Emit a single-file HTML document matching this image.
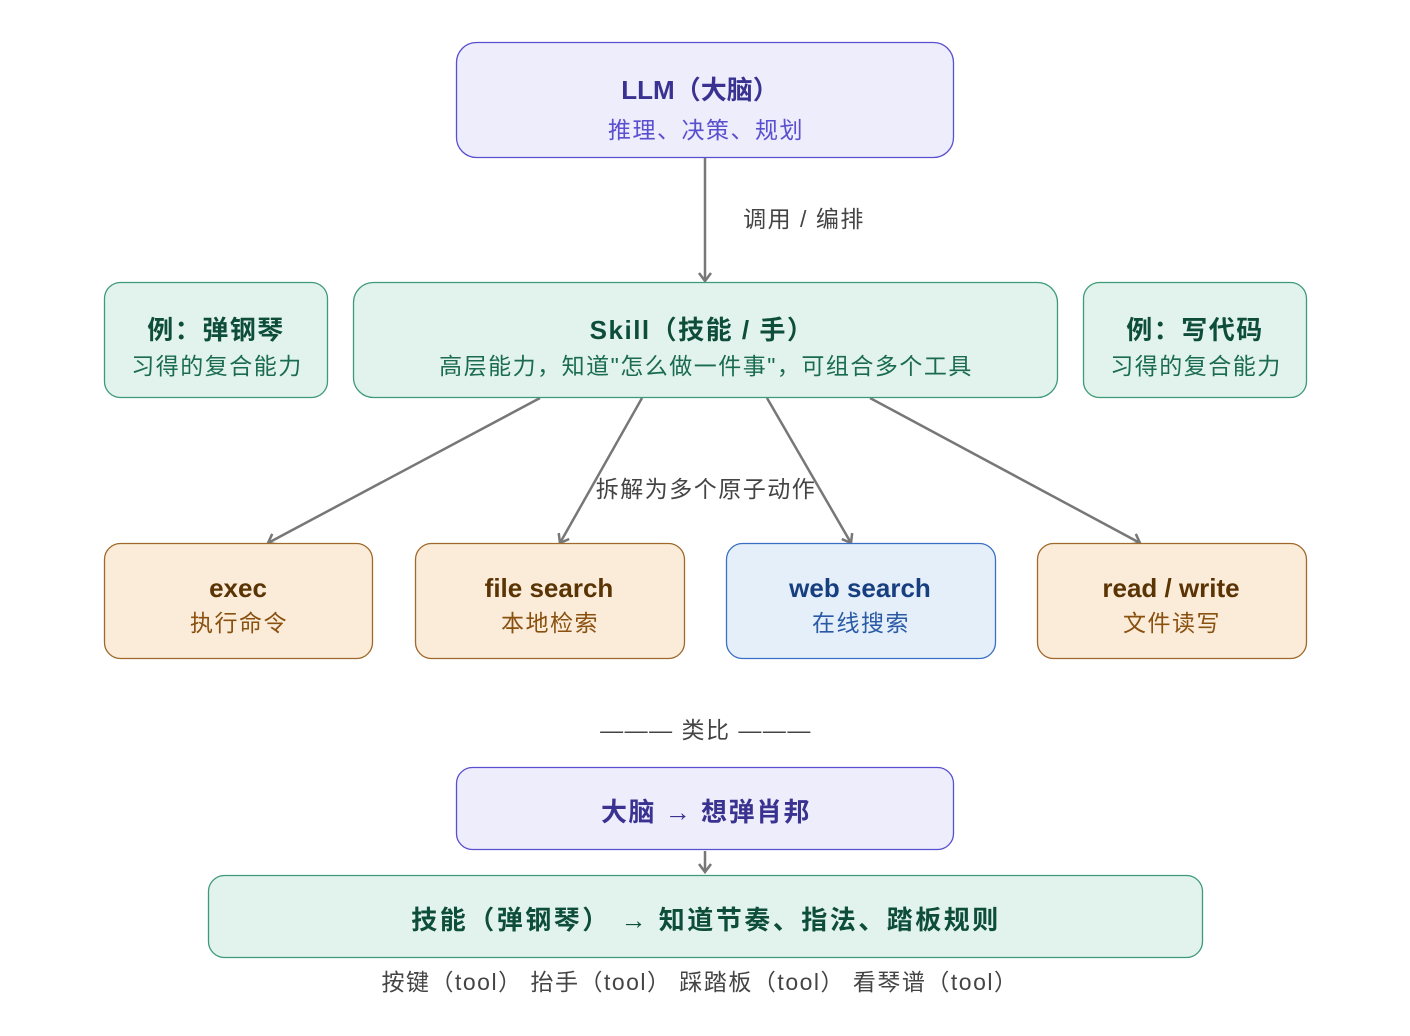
<!DOCTYPE html>
<html><head><meta charset="utf-8"><style>
html,body{margin:0;padding:0;background:#fff;width:1410px;height:1036px;overflow:hidden}
text{font-family:"Liberation Sans","Noto Sans CJK SC",sans-serif;text-anchor:middle}
.b{font-weight:bold;font-size:26px}
.s{font-size:23px;letter-spacing:1.5px}
.w{letter-spacing:1.5px}
</style></head><body>
<svg width="1410" height="1036" viewBox="0 0 1410 1036" xmlns="http://www.w3.org/2000/svg">
<defs><marker id="a" markerWidth="14" markerHeight="14" refX="10" refY="7" orient="auto" markerUnits="userSpaceOnUse"><path d="M2,1 L10,7 L2,13" fill="none" stroke="#777" stroke-width="2.5"/></marker></defs>
<g stroke="#777" stroke-width="2.5" fill="none">
<line x1="705" y1="158" x2="705" y2="281" marker-end="url(#a)"/>
<line x1="540" y1="398" x2="268" y2="543" marker-end="url(#a)"/>
<line x1="642" y1="398" x2="560" y2="543" marker-end="url(#a)"/>
<line x1="767" y1="398" x2="851" y2="543" marker-end="url(#a)"/>
<line x1="870" y1="398" x2="1140" y2="543" marker-end="url(#a)"/>
<line x1="705" y1="851" x2="705" y2="872" marker-end="url(#a)"/>
</g>
<text x="804" y="227" class="s" fill="#444">调用 / 编排</text>
<text x="706" y="497" class="s" fill="#444">拆解为多个原子动作</text>

<rect x="456.5" y="42.5" width="497" height="115" rx="20" fill="#ededfc" stroke="#5a4fcf" stroke-width="1.3"/>
<text x="700" y="99" class="b" fill="#3a3290">LLM（大脑）</text>
<text x="706" y="138" class="s" fill="#5a4fcf">推理、决策、规划</text>

<rect x="353.5" y="282.5" width="704" height="115" rx="20" fill="#e1f3ec" stroke="#3f9a78" stroke-width="1.3"/>
<text x="702" y="339" class="b w" fill="#0d4d3a">Skill（技能 / 手）</text>
<text x="706" y="374" class="s" fill="#1a6b50">高层能力，知道"怎么做一件事"，可组合多个工具</text>

<rect x="104.5" y="282.5" width="223" height="115" rx="16" fill="#e1f3ec" stroke="#3f9a78" stroke-width="1.3"/>
<text x="216" y="339" class="b w" fill="#0d4d3a">例：弹钢琴</text>
<text x="217" y="374" class="s" fill="#1a6b50">习得的复合能力</text>
<rect x="1083.5" y="282.5" width="223" height="115" rx="16" fill="#e1f3ec" stroke="#3f9a78" stroke-width="1.3"/>
<text x="1195" y="339" class="b w" fill="#0d4d3a">例：写代码</text>
<text x="1196" y="374" class="s" fill="#1a6b50">习得的复合能力</text>

<rect x="104.5" y="543.5" width="268" height="115" rx="16" fill="#faecd9" stroke="#a0682a" stroke-width="1.3"/>
<text x="238" y="597" class="b" fill="#5a3405">exec</text>
<text x="239" y="631" class="s" fill="#8a5010">执行命令</text>
<rect x="415.5" y="543.5" width="269" height="115" rx="16" fill="#faecd9" stroke="#a0682a" stroke-width="1.3"/>
<text x="549" y="597" class="b" fill="#5a3405">file search</text>
<text x="550" y="631" class="s" fill="#8a5010">本地检索</text>
<rect x="726.5" y="543.5" width="269" height="115" rx="16" fill="#e5effa" stroke="#3b6fc4" stroke-width="1.3"/>
<text x="860" y="597" class="b" fill="#173f80">web search</text>
<text x="861" y="631" class="s" fill="#2a5aa5">在线搜索</text>
<rect x="1037.5" y="543.5" width="269" height="115" rx="16" fill="#faecd9" stroke="#a0682a" stroke-width="1.3"/>
<text x="1171" y="597" class="b" fill="#5a3405">read / write</text>
<text x="1172" y="631" class="s" fill="#8a5010">文件读写</text>

<text x="706" y="738" class="s" fill="#444">——— 类比 ———</text>

<rect x="456.5" y="767.5" width="497" height="82" rx="16" fill="#ededfc" stroke="#5a4fcf" stroke-width="1.3"/>
<text x="706" y="821" class="b w" fill="#3a3290">大脑 → 想弹肖邦</text>

<rect x="208.5" y="875.5" width="994" height="82" rx="16" fill="#e1f3ec" stroke="#3f9a78" stroke-width="1.3"/>
<text x="706" y="929" class="b" fill="#0d4d3a" style="letter-spacing:2.5px">技能（弹钢琴） → 知道节奏、指法、踏板规则</text>

<text x="700" y="990" class="s" fill="#444">按键（tool） 抬手（tool） 踩踏板（tool） 看琴谱（tool）</text>
</svg>
</body></html>
